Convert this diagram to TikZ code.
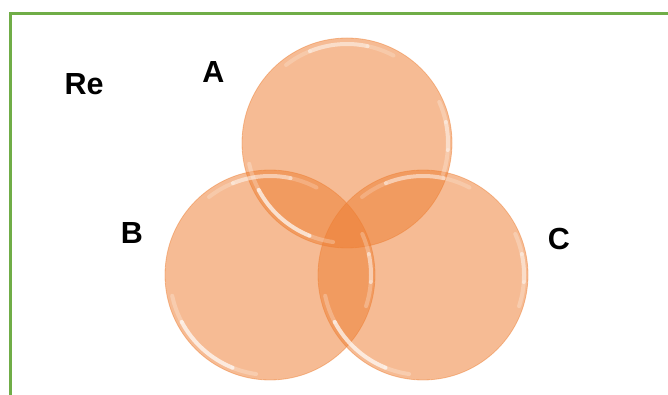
\documentclass[tikz,border=0pt]{standalone}
\usepackage{fontspec}
\setmainfont{Liberation Sans}
\definecolor{frame}{RGB}{112,173,71}
\definecolor{bubble}{RGB}{237,125,49}
\tikzset{
  bubblenode/.style={circle, inner sep=0pt, minimum size=210pt, fill=bubble, fill opacity=0.52, draw=bubble, draw opacity=0.45, line width=0.8pt},
  lbl/.style={font=\fontsize{30.5}{35}\selectfont\bfseries, text=black, anchor=base, inner sep=0pt},
  glint/.style={draw=white, line cap=round, line width=4pt},
}
\newcommand{\glintarc}[5]{% center, start, end, radius, opacity
  \draw[glint, draw opacity=#5] (#1) ++(#2:#4) arc[start angle=#2, end angle=#3, radius=#4];}
\begin{document}
\begin{tikzpicture}[x=1pt,y=1pt]
\useasboundingbox (0,0) rectangle (668,395);
\draw[frame, line width=3pt] (10.8,-30) -- (10.8,381.8) -- (700,381.8);
\node[bubblenode] (A) at (347,252) {};
\node[bubblenode] (B) at (270,120) {};
\node[bubblenode] (C) at (423,120) {};
\foreach \c in {A,B,C}{
  \glintarc{\c}{62}{78}{99}{0.2}
  \glintarc{\c}{78}{112}{99}{0.5}
  \glintarc{\c}{112}{128}{99}{0.2}
  \glintarc{\c}{192}{208}{100}{0.25}
  \glintarc{\c}{208}{248}{100}{0.7}
  \glintarc{\c}{248}{262}{100}{0.25}
  \glintarc{\c}{-18}{-4}{101}{0.25}
  \glintarc{\c}{-4}{12}{101}{0.5}
  \glintarc{\c}{12}{24}{101}{0.25}
}
\node[lbl] (re) at (84,300) {Re};
\node[lbl] (la) at (213.5,312) {A};
\node[lbl] (lb) at (132,151) {B};
\node[lbl] (lc) at (559,145.5) {C};
\end{tikzpicture}
\end{document}
